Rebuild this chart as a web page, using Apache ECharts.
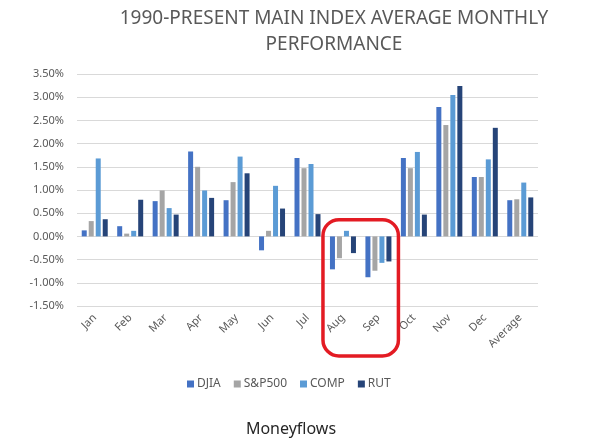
<!DOCTYPE html>
<html>
<head>
<meta charset="utf-8">
<script src="https://cdn.jsdelivr.net/npm/echarts@6/dist/echarts.min.js"></script>
<style>
  html, body { margin: 0; padding: 0; background: #fff; }
  #chart { width: 601px; height: 440px; }
</style>
</head>
<body>
<div id="chart"></div>
<script>
const months = ['Jan', 'Feb', 'Mar', 'Apr', 'May', 'Jun', 'Jul', 'Aug', 'Sep', 'Oct', 'Nov', 'Dec', 'Average']

// average monthly performance, %
const djia = [0.13, 0.22, 0.76, 1.83, 0.78, -0.30, 1.69, -0.71, -0.88, 1.69, 2.79, 1.28, 0.78]
const sp500 = [0.33, 0.06, 0.99, 1.50, 1.17, 0.12, 1.47, -0.47, -0.74, 1.47, 2.40, 1.28, 0.80]
const comp = [1.68, 0.12, 0.61, 0.99, 1.72, 1.09, 1.56, 0.12, -0.57, 1.82, 3.05, 1.66, 1.16]
const rut = [0.37, 0.79, 0.47, 0.83, 1.36, 0.60, 0.48, -0.36, -0.54, 0.47, 3.24, 2.34, 0.84]

const seriesNames = ['DJIA', 'S&P500', 'COMP', 'RUT']
const seriesColors = ['#4472C4', '#A5A5A5', '#5B9BD5', '#264478']
const seriesData = [djia, sp500, comp, rut]

const font = 'Noto Sans'
const chartDom = document.getElementById('chart')
const myChart = echarts.init(chartDom)

const option = {
  animation: false,
  backgroundColor: '#fff',
  textStyle: { fontFamily: font },
  title: [
    {
      text: '1990-PRESENT MAIN INDEX AVERAGE MONTHLY\nPERFORMANCE',
      left: 329,
      top: 1,
      textAlign: 'center',
      textStyle: { fontFamily: font, fontSize: 19, fontWeight: 'normal', color: '#595959', lineHeight: 26 },
    },
    {
      text: 'Moneyflows',
      left: 286,
      top: 416,
      textAlign: 'center',
      textStyle: { fontFamily: font, fontSize: 16, fontWeight: 'normal', color: '#262626' },
    },
  ],
  legend: {
    data: seriesNames,
    left: 182,
    top: 373,
    itemWidth: 7,
    itemHeight: 7,
    itemGap: 13,
    icon: 'rect',
    textStyle: { fontFamily: font, fontSize: 12, color: '#595959', padding: [0, 0, 0, -2] },
  },
  grid: { left: 77, right: 63, top: 74, bottom: 134 },
  xAxis: {
    type: 'category',
    data: months,
    axisLine: { show: false, onZero: false },
    axisTick: { show: false },
    axisLabel: { rotate: 45, margin: 10, fontSize: 11, color: '#595959', fontFamily: font, interval: 0 },
  },
  yAxis: {
    type: 'value',
    min: -1.5,
    max: 3.5,
    interval: 0.5,
    axisLine: { show: false },
    axisTick: { show: false },
    splitLine: { lineStyle: { color: '#D9D9D9', width: 1 } },
    axisLabel: {
      margin: 13,
      fontSize: 11,
      color: '#595959',
      fontFamily: font,
      formatter: v => v.toFixed(2) + '%',
    },
  },
  series: seriesNames.map((name, i) => ({
    name: name,
    type: 'bar',
    data: seriesData[i],
    barWidth: 5,
    barGap: '40%',
    itemStyle: { color: seriesColors[i] },
  })),
}

myChart.setOption(option)

// red highlight round Aug and Sep
const augX = myChart.convertToPixel({ xAxisIndex: 0 }, 'Aug')
const sepX = myChart.convertToPixel({ xAxisIndex: 0 }, 'Sep')
const topY = myChart.convertToPixel({ yAxisIndex: 0 }, 0.36)
const bottomY = myChart.convertToPixel({ yAxisIndex: 0 }, -1.5) + 50
myChart.setOption({
  graphic: [{
    type: 'rect',
    shape: { x: augX - 20, y: topY, width: sepX - augX + 40, height: bottomY - topY, r: 16 },
    style: { fill: 'none', stroke: '#E31B23', lineWidth: 3.5 },
    z: 100,
  }],
})
</script>
</body>
</html>
